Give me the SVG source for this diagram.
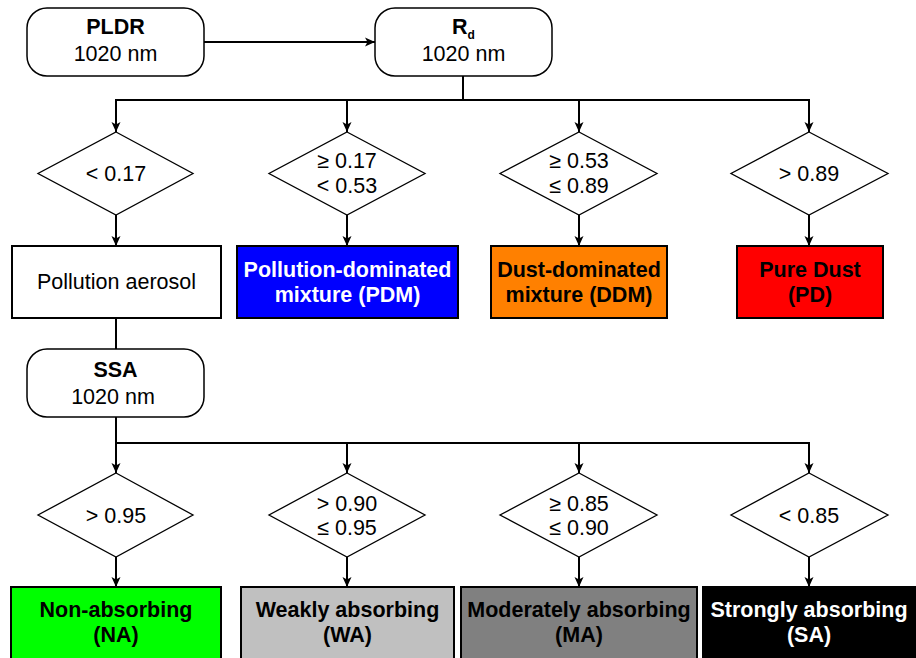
<svg xmlns="http://www.w3.org/2000/svg" width="916" height="658" viewBox="0 0 916 658">
<defs>
<marker id="arr" viewBox="0 0 10 10" refX="10" refY="5" markerWidth="10" markerHeight="10" markerUnits="userSpaceOnUse" orient="auto">
<path d="M0,0.5 L10,5 L0,9.5 L2.5,5 z" fill="#000"/>
</marker>
<style>
.t{font-family:"Liberation Sans",Arial,sans-serif;font-size:21.5px;text-anchor:middle;fill:#000}
.b{font-weight:bold}
.w{fill:#fff}
.rnd{fill:#fff;stroke:#000;stroke-width:1.5}
.dia{fill:#fff;stroke:#000;stroke-width:1.3}
.box{stroke:#000;stroke-width:2}
.ln{fill:none;stroke:#000;stroke-width:2}
.ar{fill:none;stroke:#000;stroke-width:2;marker-end:url(#arr)}
</style>
</defs>
<rect width="916" height="658" fill="#fff"/>
<g id="connectors">
<path class="ar" d="M204,42 H375"/>
<path class="ln" d="M463,76 V100 M116,100 H810"/>
<path class="ar" d="M116,99 V132"/>
<path class="ar" d="M347,99 V132"/>
<path class="ar" d="M579,99 V132"/>
<path class="ar" d="M809,99 V132"/>
<path class="ar" d="M116,215 V246"/>
<path class="ar" d="M347,215 V246"/>
<path class="ar" d="M579,215 V246"/>
<path class="ar" d="M809,215 V246"/>
<path class="ln" d="M116,318 V349 M116,417 V443 M116,443 H810"/>
<path class="ar" d="M116,442 V473"/>
<path class="ar" d="M347,442 V473"/>
<path class="ar" d="M579,442 V473"/>
<path class="ar" d="M809,442 V473"/>
<path class="ar" d="M116,557 V587"/>
<path class="ar" d="M347,557 V587"/>
<path class="ar" d="M579,557 V587"/>
<path class="ar" d="M809,557 V587"/>
</g>
<g id="pldr">
<rect class="rnd" x="27" y="8" width="177" height="68" rx="20"/>
<text class="t b" x="115.5" y="34">PLDR</text>
<text class="t" x="115.5" y="61">1020 nm</text>
</g>
<g id="rd">
<rect class="rnd" x="375" y="8" width="177" height="68" rx="20"/>
<text class="t b" x="463.5" y="34">R<tspan font-size="12" dy="5">d</tspan></text>
<text class="t" x="463.5" y="61">1020 nm</text>
</g>
<g id="d1">
<polygon class="dia" points="116,132 193,173.5 116,215 38,173.5"/>
<text class="t" x="116" y="181">&lt; 0.17</text>
</g>
<g id="d2">
<polygon class="dia" points="347,132 425,173.5 347,215 269,173.5"/>
<text class="t" x="347" y="168">≥ 0.17</text>
<text class="t" x="347" y="193">&lt; 0.53</text>
</g>
<g id="d3">
<polygon class="dia" points="579,132 657,173.5 579,215 500,173.5"/>
<text class="t" x="579" y="168">≥ 0.53</text>
<text class="t" x="579" y="193">≤ 0.89</text>
</g>
<g id="d4">
<polygon class="dia" points="809,132 888,173.5 809,215 731,173.5"/>
<text class="t" x="809" y="181">&gt; 0.89</text>
</g>
<g id="pa">
<rect class="box" x="12" y="246" width="209" height="72" fill="#fff"/>
<text class="t" x="116.5" y="289">Pollution aerosol</text>
</g>
<g id="pdm">
<rect class="box" x="237" y="246" width="221" height="72" fill="#0000ff"/>
<text class="t b w" x="347.5" y="277">Pollution-dominated</text>
<text class="t b w" x="347.5" y="302">mixture (PDM)</text>
</g>
<g id="ddm">
<rect class="box" x="491" y="246" width="176" height="72" fill="#ff8000"/>
<text class="t b" x="579" y="277">Dust-dominated</text>
<text class="t b" x="579" y="302">mixture (DDM)</text>
</g>
<g id="pd">
<rect class="box" x="737" y="246" width="146" height="72" fill="#ff0000"/>
<text class="t b" x="810" y="277">Pure Dust</text>
<text class="t b" x="810" y="302">(PD)</text>
</g>
<g id="ssa">
<rect class="rnd" x="27" y="349" width="177" height="68" rx="20"/>
<text class="t b" x="115.5" y="377">SSA</text>
<text class="t" x="113" y="404">1020 nm</text>
</g>
<g id="d5">
<polygon class="dia" points="116,473 193,515 116,557 38,515"/>
<text class="t" x="116" y="523">&gt; 0.95</text>
</g>
<g id="d6">
<polygon class="dia" points="347,473 425,515 347,557 269,515"/>
<text class="t" x="347" y="511">&gt; 0.90</text>
<text class="t" x="347" y="535">≤ 0.95</text>
</g>
<g id="d7">
<polygon class="dia" points="579,473 657,515 579,557 500,515"/>
<text class="t" x="579" y="511">≥ 0.85</text>
<text class="t" x="579" y="535">≤ 0.90</text>
</g>
<g id="d8">
<polygon class="dia" points="809,473 888,515 809,557 731,515"/>
<text class="t" x="809" y="523">&lt; 0.85</text>
</g>
<g id="na">
<rect class="box" x="11" y="587" width="210" height="80" fill="#00ff00"/>
<text class="t b" x="116" y="617">Non-absorbing</text>
<text class="t b" x="116" y="642">(NA)</text>
</g>
<g id="wa">
<rect class="box" x="241" y="587" width="213" height="80" fill="#c0c0c0"/>
<text class="t b" x="347.5" y="617">Weakly absorbing</text>
<text class="t b" x="347.5" y="642">(WA)</text>
</g>
<g id="ma">
<rect class="box" x="461" y="587" width="236" height="80" fill="#808080"/>
<text class="t b" x="579" y="617">Moderately absorbing</text>
<text class="t b" x="579" y="642">(MA)</text>
</g>
<g id="sa">
<rect class="box" x="703" y="587" width="214" height="80" fill="#000"/>
<text class="t b w" x="809" y="617">Strongly absorbing</text>
<text class="t b w" x="809" y="642">(SA)</text>
</g>
</svg>
